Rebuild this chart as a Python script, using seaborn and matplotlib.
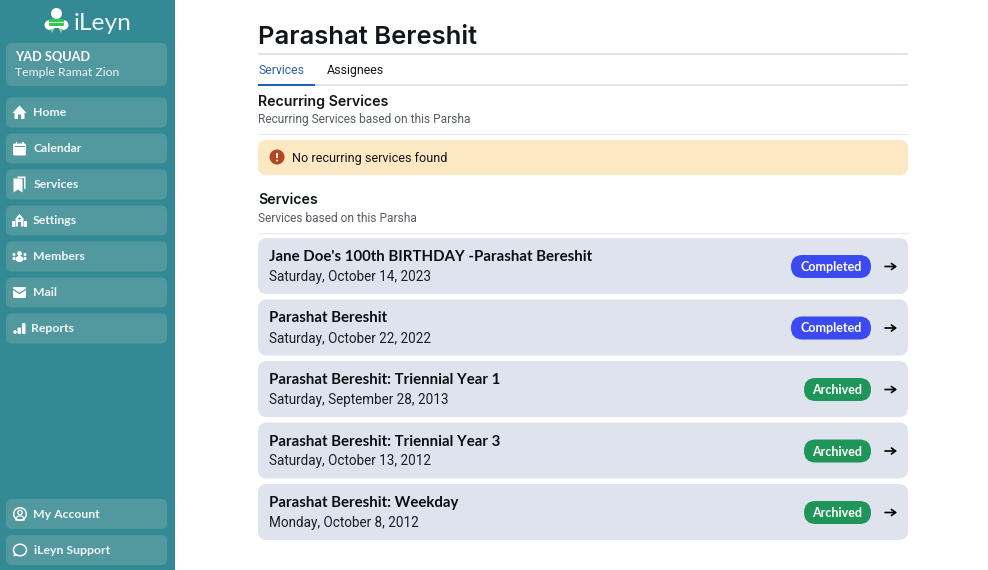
import matplotlib
matplotlib.use("Agg")
import matplotlib.pyplot as plt
from matplotlib.patches import FancyBboxPatch, Circle, Rectangle, Polygon, Wedge, Ellipse
import seaborn as sns

sns.set_theme(style="white")
plt.rcParams['font.family'] = ['Inter', 'Noto Sans', 'DejaVu Sans']

SIDE = "Lato"
BODY = "Inter"
SMALL = "Roboto"

nav_top = ["Home", "Calendar", "Services", "Settings", "Members", "Mail", "Reports"]
nav_text_x = [33, 33, 34, 33, 33, 33, 31]
nav_bottom = ["My Account", "iLeyn Support"]
nav_bottom_x = [33, 34]

service_titles = ["Jane Doe's 100th BIRTHDAY -Parashat Bereshit", "Parashat Bereshit",
                  "Parashat Bereshit: Triennial Year 1", "Parashat Bereshit: Triennial Year 3",
                  "Parashat Bereshit: Weekday"]
service_dates = ["Saturday, October 14, 2023", "Saturday, October 22, 2022",
                 "Saturday, September 28, 2013", "Saturday, October 13, 2012",
                 "Monday, October 8, 2012"]
service_status = ["Completed", "Completed", "Archived", "Archived", "Archived"]
status_colors = {"Completed": "#3b49f0", "Archived": "#1f9559"}
status_left = {"Completed": 791, "Archived": 804}

TEAL = "#338a94"
BTN = "#52989f"
ROW = "#dee3ed"
LINE = "#e3e7ee"
INK = "#11151c"

fig = plt.figure(figsize=(9.88, 5.70), dpi=100)
ax = fig.add_axes([0, 0, 1, 1])
ax.set_xlim(0, 988)
ax.set_ylim(570, 0)
ax.axis("off")


def box(x0, y0, x1, y1, color, r=6, z=2):
    p = FancyBboxPatch((x0 + r, y0 + r), x1 - x0 - 2 * r, y1 - y0 - 2 * r,
                       boxstyle=f"round,pad={r},rounding_size={r}", fc=color, ec="none", zorder=z)
    ax.add_patch(p)


def txt(x, y, s, px, color=INK, weight="normal", family=BODY, ha="left"):
    ax.text(x, y, s, fontsize=px * 0.72, color=color, fontweight=weight,
            family=family, ha=ha, va="center_baseline", zorder=5)


def hline(y, color=LINE, x0=258, x1=908, lw=1.0):
    ax.plot([x0, x1], [y, y], color=color, lw=lw * 0.72, zorder=3, solid_capstyle="butt")


def poly(points, color="white", z=4):
    ax.add_patch(Polygon(points, closed=True, fc=color, ec="none", zorder=z))


def icon(name, cx, cy):
    w = "white"
    if name == "Home":
        poly([(cx - 7, cy + 0.5), (cx, cy - 7), (cx + 7, cy + 0.5), (cx + 5, cy + 0.5), (cx + 5, cy + 6.5),
              (cx + 1.5, cy + 6.5), (cx + 1.5, cy + 2), (cx - 1.5, cy + 2), (cx - 1.5, cy + 6.5),
              (cx - 5, cy + 6.5), (cx - 5, cy + 0.5)])
    elif name == "Calendar":
        box(cx - 6.5, cy - 5, cx + 6.5, cy + 7, w, r=1.5, z=4)
        ax.add_patch(Rectangle((cx - 4, cy - 7), 1.5, 3, fc=w, ec="none", zorder=4))
        ax.add_patch(Rectangle((cx + 2.5, cy - 7), 1.5, 3, fc=w, ec="none", zorder=4))
        ax.add_patch(Rectangle((cx - 5, cy - 2.5), 10, 1, fc=BTN, ec="none", zorder=5))
    elif name == "Services":
        poly([(cx - 2, cy - 8), (cx + 6, cy - 8), (cx + 6, cy + 5), (cx + 4.5, cy + 4),
              (cx + 4.5, cy - 6.5), (cx - 2, cy - 6.5)])
        poly([(cx - 6, cy - 6), (cx + 3, cy - 6), (cx + 3, cy + 8), (cx - 1.5, cy + 5), (cx - 6, cy + 8)])
    elif name == "Settings":
        poly([(cx - 4, cy + 6), (cx - 4, cy - 2), (cx, cy - 6.5), (cx + 4, cy - 2), (cx + 4, cy + 6)])
        ax.add_patch(Rectangle((cx - 7.5, cy), 2.6, 6, fc=w, ec="none", zorder=4))
        ax.add_patch(Rectangle((cx + 4.9, cy), 2.6, 6, fc=w, ec="none", zorder=4))
        ax.add_patch(Rectangle((cx - 1.5, cy + 1), 3, 5, fc=BTN, ec="none", zorder=5))
        ax.add_patch(Circle((cx, cy - 2), 1.2, fc=BTN, ec="none", zorder=5))
    elif name == "Members":
        ax.add_patch(Circle((cx, cy - 3), 2.4, fc=w, ec="none", zorder=4))
        ax.add_patch(Ellipse((cx, cy + 2.5), 8, 6, fc=w, ec="none", zorder=4))
        for dx in (-5.5, 5.5):
            ax.add_patch(Circle((cx + dx, cy - 2), 1.5, fc=w, ec="none", zorder=4))
            ax.add_patch(Ellipse((cx + dx, cy + 2), 3, 3.5, fc=w, ec="none", zorder=4))
    elif name == "Mail":
        box(cx - 6.5, cy - 5.5, cx + 6.5, cy + 5.5, w, r=1, z=4)
        ax.plot([cx - 6, cx, cx + 6], [cy - 3, cy + 1, cy - 3], color=BTN, lw=0.9, zorder=5)
    elif name == "Reports":
        ax.add_patch(Circle((cx - 4.5, cy + 3.5), 1.8, fc=w, ec="none", zorder=4))
        box(cx - 2, cy - 1, cx + 1.5, cy + 5.5, w, r=1, z=4)
        box(cx + 2.5, cy - 5.5, cx + 6, cy + 5.5, w, r=1, z=4)
    elif name == "My Account":
        ax.add_patch(Circle((cx, cy), 6.3, fc="none", ec=w, lw=1.1, zorder=4))
        ax.add_patch(Circle((cx, cy - 1.5), 2.2, fc="none", ec=w, lw=1.0, zorder=4))
        ax.add_patch(Wedge((cx, cy + 6), 4.2, 180, 360, fc="none", ec=w, lw=0.9, zorder=4))
    elif name == "iLeyn Support":
        ax.add_patch(Ellipse((cx, cy), 13, 11.5, fc="none", ec=w, lw=1.1, zorder=4))
        poly([(cx - 6, cy + 2), (cx - 6.5, cy + 6.5), (cx - 2, cy + 5)], color=w)


# sidebar
ax.add_patch(Rectangle((0, 0), 175, 570, fc=TEAL, ec="none", zorder=1))

# logo
ax.add_patch(Circle((56.5, 13.5), 5.5, fc="white", ec="none", zorder=4))
box(50, 19, 63, 28, "white", r=2, z=4)
for cxx in (50, 63):
    ax.add_patch(Ellipse((cxx, 25), 11, 10, fc="white", ec="none", zorder=4))
box(49, 19, 64, 26, "#2fc94f", r=1.5, z=5)
ax.add_patch(Rectangle((49, 22), 15, 1.2, fc="#d9f5de", ec="none", zorder=6))
poly([(50, 29), (54, 29), (52, 33)], color="#7fdc93")
poly([(59, 29), (63, 29), (61, 33)], color="#7fdc93")
txt(74, 21.5, "iLeyn", 24.5, color="#e9f3f4", family=SIDE)

# org card
box(6, 43, 167, 86, BTN)
txt(15, 56, "YAD SQUAD", 12.8, color="white", weight="bold", family=SIDE)
txt(15, 72, "Temple Ramat Zion", 12.3, color="#eef5f5", family=SIDE)

for i, label in enumerate(nav_top):
    yc = 112.5 + 36 * i
    box(6, yc - 15, 167, yc + 15, BTN)
    icon(label, 19.5, yc)
    txt(nav_text_x[i], yc - 0.7, label, 12.3, color="#f3f8f8", weight="bold", family=SIDE)

for i, label in enumerate(nav_bottom):
    yc = 514 + 36 * i
    box(6, yc - 15, 167, yc + 15, BTN)
    icon(label, 20, yc)
    txt(nav_bottom_x[i], yc - 0.5, label, 12.3, color="#f3f8f8", weight="bold", family=SIDE)

# header
txt(258, 35, "Parashat Bereshit", 25.6, weight="semibold")
hline(54, color="#d5dbe8", lw=1.5)
txt(258, 69, "Services", 12.2, color="#2b62ad", family=SMALL)
txt(327, 69, "Assignees", 12.4, family=SMALL)
hline(84.5, color="#d5dbe8", lw=1.5)
hline(84.5, color="#1f5fb5", x1=315, lw=2)

# recurring
txt(258, 100.5, "Recurring Services", 14.2, weight="semibold")
txt(258, 118, "Recurring Services based on this Parsha", 11.9, color="#555c66", family=SMALL)
hline(134)
box(258, 140, 908, 175, "#fde8c4", r=8)
ax.add_patch(Circle((277, 157), 7.5, fc="#b5471f", ec="none", zorder=4))
ax.add_patch(Rectangle((276.2, 152.5), 1.6, 5.5, fc="white", ec="none", zorder=5))
ax.add_patch(Circle((277, 160.5), 1, fc="white", ec="none", zorder=5))
txt(292, 157, "No recurring services found", 12.6, family=SMALL)

# services
txt(258, 199, "Services", 14.2, weight="semibold")
txt(258, 216.5, "Services based on this Parsha", 11.9, color="#555c66", family=SMALL)
hline(233)

for i, (title, date, status) in enumerate(zip(service_titles, service_dates, service_status)):
    y0 = 238 + 61.5 * i
    box(258, y0, 908, y0 + 56, ROW, r=9)
    txt(269, y0 + 17.5, title, 15, color="#0c0f14", weight="bold", family=SIDE)
    txt(269, y0 + 37.5, date, 13.5, color="#1a1e25", family=SMALL)
    left = status_left[status]
    box(left, y0 + 17, 871, y0 + 40, status_colors[status], r=11.5)
    txt((left + 871) / 2, y0 + 28, status, 12.5, color="white", weight="bold", family=SIDE, ha="center")
    yc = y0 + 28.5
    ax.annotate("", xy=(897, yc), xytext=(885, yc), zorder=5,
                arrowprops=dict(arrowstyle="->,head_width=0.18,head_length=0.25", color="black", lw=1.2,
                                shrinkA=0, shrinkB=0))

fig.savefig("out.png", dpi=100)
